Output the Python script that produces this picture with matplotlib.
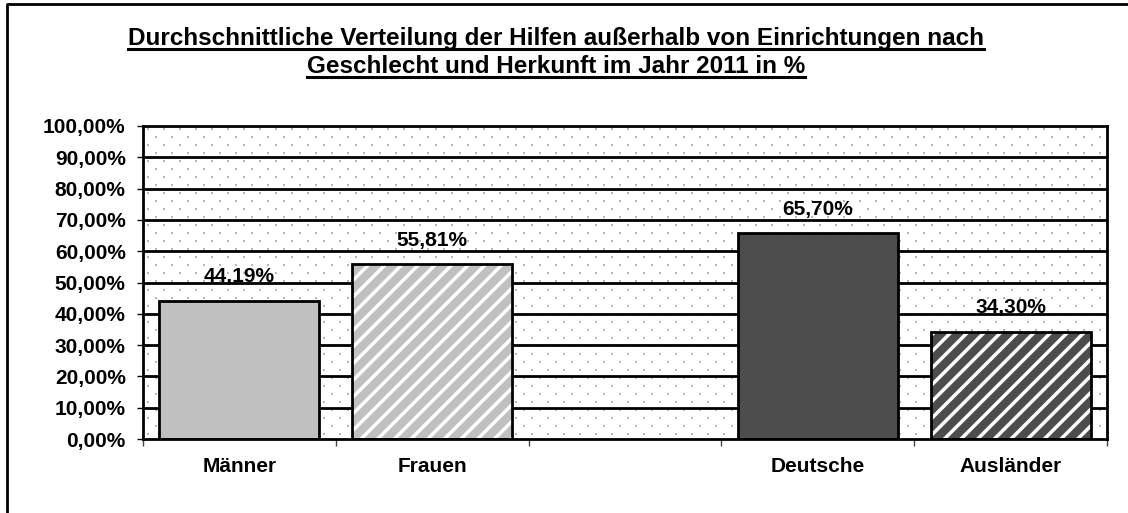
import numpy as np
import matplotlib
matplotlib.use('Agg')
import matplotlib.pyplot as plt
from matplotlib.lines import Line2D

# data
categories = ['Männer', 'Frauen', '', 'Deutsche', 'Ausländer']
values = [44.19, 55.81, None, 65.70, 34.30]
value_labels = ['44,19%', '55,81%', '', '65,70%', '34,30%']
y_ticks = [0, 10, 20, 30, 40, 50, 60, 70, 80, 90, 100]
title_lines = ['Durchschnittliche Verteilung der Hilfen außerhalb von Einrichtungen nach',
               'Geschlecht und Herkunft im Jahr 2011 in %']

face_colors = ['#c0c0c0', '#c0c0c0', None, '#4d4d4d', '#4d4d4d']
hatches = ['', '//', None, '', '//']


def pct(v):
    return ('%.2f' % v).replace('.', ',') + '%'


def dot_texture(w, h):
    # light grey dot pattern like the excel plot area fill
    img = np.ones((h, w, 3))
    for r in range(3, h, 8):
        shift = 4 if (r // 8) % 2 == 0 else 12
        for c in range(shift, w, 16):
            img[r:r + 2, c:c + 2] = 0.72
    return img


def main():
    plt.rcParams['font.family'] = ['Liberation Sans', 'DejaVu Sans']
    plt.rcParams['font.weight'] = 'bold'
    plt.rcParams['hatch.linewidth'] = 2.5

    fig = plt.figure(figsize=(11.28, 5.13), dpi=100)
    ax = fig.add_axes([0.1268, 0.1442, 0.8546, 0.6102])

    # dotted background
    W, H = fig.bbox.width, fig.bbox.height
    pw, ph = int(round(0.8546 * W)), int(round(0.6102 * H))
    ax.imshow(dot_texture(pw, ph), extent=(0, 1, 0, 1), transform=ax.transAxes,
              interpolation='nearest', aspect='auto', zorder=0)

    x = np.arange(len(categories))
    width = 0.83
    for i, v in enumerate(values):
        if v is None:
            continue
        ax.bar(x[i], v, width=width, color=face_colors[i], hatch=hatches[i],
               edgecolor='white', linewidth=0, zorder=3)
        ax.bar(x[i], v, width=width, color='none', edgecolor='black',
               linewidth=2, zorder=4)
        ax.annotate(value_labels[i], (x[i], v), xytext=(0, 10.5), textcoords='offset points',
                    ha='center', va='bottom', fontsize=15, fontweight='bold', zorder=5)

    ax.set_xlim(-0.5, len(categories) - 0.5)
    ax.set_ylim(0, 100)
    ax.set_aspect('auto')
    ax.set_yticks(y_ticks)
    ax.set_yticklabels([pct(t) for t in y_ticks], fontsize=15, fontweight='bold')
    for t in y_ticks[1:-1]:
        ax.axhline(t, color='black', linewidth=2, zorder=2)

    ax.set_xticks(np.arange(len(categories) + 1) - 0.5)
    ax.set_xticklabels([])
    ax.set_xticks(x, minor=True)
    ax.set_xticklabels(categories, minor=True, fontsize=15, fontweight='bold')
    ax.tick_params(axis='x', which='minor', length=0, pad=13)
    ax.tick_params(axis='x', which='major', length=5, width=1, color='#444444', direction='out')
    ax.tick_params(axis='y', length=4.5, width=1, pad=8)

    for s in ax.spines.values():
        s.set_linewidth(2)
        s.set_zorder(6)

    # title, underlined
    t1 = fig.text(0.493, 0.912, title_lines[0], ha='center', va='baseline',
                  fontsize=17.5, fontweight='bold')
    t2 = fig.text(0.493, 0.858, title_lines[1], ha='center', va='baseline',
                  fontsize=17.5, fontweight='bold')
    fig.canvas.draw()
    r = fig.canvas.get_renderer()
    for t in (t1, t2):
        bb = t.get_window_extent(r)
        yb = t.get_position()[1] - 4 / H
        fig.add_artist(Line2D([bb.x0 / W, bb.x1 / W], [yb, yb], color='black',
                              linewidth=2.2, transform=fig.transFigure))

    # outer frame (left and top only visible)
    fig.add_artist(Line2D([0.0066, 0.0066, 1.0], [0.0, 0.992, 0.992], color='black',
                          linewidth=2, transform=fig.transFigure))

    plt.savefig('out.png', dpi=100)


if __name__ == '__main__':
    main()
